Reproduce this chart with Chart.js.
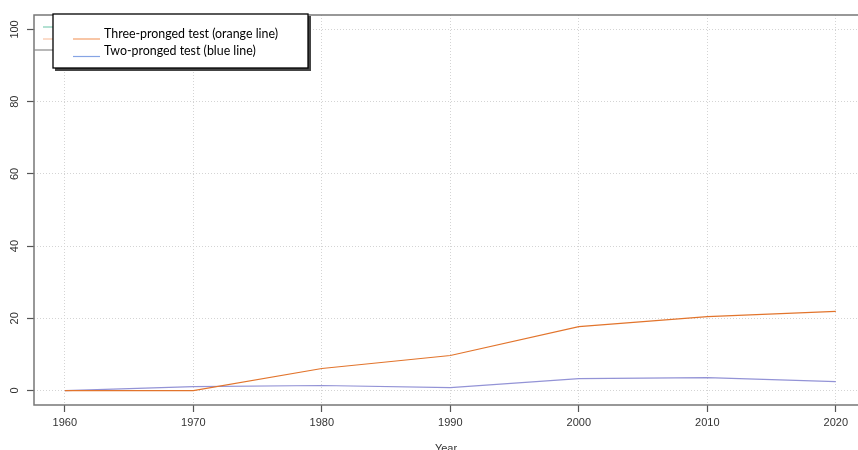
<!DOCTYPE html>
<html>
<head>
<meta charset="utf-8">
<script src="https://cdn.jsdelivr.net/npm/chart.js@4/dist/chart.umd.min.js"></script>
<style>
  html, body { margin: 0; padding: 0; background: #fff; overflow: hidden; }
  #wrap { width: 858px; height: 450px; }
</style>
</head>
<body>
<div id="wrap"><canvas id="chart"></canvas></div>
<script>
// data
const years = [1960, 1970, 1980, 1990, 2000, 2010, 2020];
const threePronged = [0, 0, 6.1, 9.7, 17.7, 20.5, 21.9];
const twoPronged = [0, 1.1, 1.4, 0.8, 3.3, 3.6, 2.5];
const xTicks = [1960, 1970, 1980, 1990, 2000, 2010, 2020];
const yTicks = [0, 20, 40, 60, 80, 100];
const legendLabels = ["Three-pronged test (orange line)", "Two-pronged test (blue line)"];

const AXIS_FONT = "11px 'Liberation Sans', Arial, sans-serif";

// R-style extras: box, rotated y labels, overlapping legends
const rDecor = {
  id: "rDecor",
  afterDraw(chart) {
    const { ctx, chartArea: a, scales } = chart;
    ctx.save();
    // plot box (left, top, bottom)
    ctx.strokeStyle = "#777";
    ctx.lineWidth = 1.5;
    ctx.beginPath();
    ctx.moveTo(a.right + 2, a.top);
    ctx.lineTo(a.left, a.top);
    ctx.lineTo(a.left, a.bottom);
    ctx.lineTo(a.right + 2, a.bottom);
    ctx.stroke();

    // rotated y tick labels
    ctx.fillStyle = "#333";
    ctx.font = AXIS_FONT;
    ctx.textAlign = "center";
    ctx.textBaseline = "middle";
    yTicks.forEach(v => {
      const y = scales.y.getPixelForValue(v);
      ctx.save();
      ctx.translate(15, y);
      ctx.rotate(-Math.PI / 2);
      ctx.fillText(String(v), 0, 0);
      ctx.restore();
    });

    // leftover legend underneath
    ctx.fillStyle = "#fff";
    ctx.fillRect(a.left + 1, a.top + 1, 20, 35);
    ctx.strokeStyle = "#888";
    ctx.lineWidth = 1.2;
    ctx.beginPath();
    ctx.moveTo(a.left, 50);
    ctx.lineTo(54, 50);
    ctx.stroke();
    ctx.lineWidth = 1;
    ctx.strokeStyle = "#66c2a5";
    ctx.beginPath(); ctx.moveTo(43, 27); ctx.lineTo(54, 27); ctx.stroke();
    ctx.strokeStyle = "#f7b894";
    ctx.beginPath(); ctx.moveTo(43, 39); ctx.lineTo(54, 39); ctx.stroke();

    // main legend with shadow
    const lx = 53, ly = 14, lw = 255, lh = 54;
    ctx.fillStyle = "#444";
    ctx.fillRect(lx + 2, ly + 2, lw + 1, lh + 1);
    ctx.fillStyle = "#fff";
    ctx.fillRect(lx, ly, lw, lh);
    ctx.strokeStyle = "#000";
    ctx.lineWidth = 1.3;
    ctx.strokeRect(lx, ly, lw, lh);

    const legendColors = ["#f4a06a", "#86a4e4"];
    const rows = [33.5, 51];
    ctx.font = "12.4px Lato, 'Open Sans', sans-serif";
    ctx.textAlign = "left";
    ctx.fillStyle = "#000";
    legendLabels.forEach((t, i) => {
      ctx.strokeStyle = legendColors[i];
      ctx.lineWidth = 1.2;
      ctx.beginPath();
      ctx.moveTo(73, rows[i] + 5.5);
      ctx.lineTo(100, rows[i] + 5.5);
      ctx.stroke();
      ctx.fillText(t, 104, rows[i]);
    });
    ctx.restore();
  }
};

const gridCommon = {
  color: "#d4d4d4",
  lineWidth: 1,
  drawTicks: true,
  tickLength: 7,
  tickColor: "#555",
  tickBorderDash: [],
  tickWidth: 1.2
};
const borderCommon = { display: false, dash: [1, 2] };

new Chart(document.getElementById("chart"), {
  type: "line",
  data: {
    datasets: [
      {
        label: legendLabels[0],
        data: years.map((x, i) => ({ x, y: threePronged[i] })),
        borderColor: "#e2742c",
        borderWidth: 1.2,
        pointRadius: 0,
        tension: 0
      },
      {
        label: legendLabels[1],
        data: years.map((x, i) => ({ x, y: twoPronged[i] })),
        borderColor: "#9393d6",
        borderWidth: 1.2,
        pointRadius: 0,
        tension: 0
      }
    ]
  },
  options: {
    responsive: true,
    maintainAspectRatio: false,
    animation: false,
    layout: { padding: { top: 15, right: 0, left: 0, bottom: 0 } },
    plugins: { legend: { display: false }, tooltip: { enabled: false } },
    scales: {
      x: {
        type: "linear",
        min: 1957.6,
        max: 1957.6 + 824 / 12.85,
        afterBuildTicks: s => { s.ticks = xTicks.map(v => ({ value: v })); },
        afterFit: s => { s.height = 45; },
        grid: gridCommon,
        border: borderCommon,
        ticks: {
          color: "#333",
          font: { family: "'Liberation Sans', Arial, sans-serif", size: 11 },
          padding: 4,
          maxRotation: 0,
          callback: v => String(v)
        },
        title: {
          display: true,
          text: "Year",
          color: "#333",
          font: { family: "'Liberation Sans', Arial, sans-serif", size: 11 },
          padding: { top: 0, bottom: -6 }
        }
      },
      y: {
        type: "linear",
        min: -4,
        max: 104,
        afterBuildTicks: s => { s.ticks = yTicks.map(v => ({ value: v })); },
        afterFit: s => { s.width = 34; },
        grid: gridCommon,
        border: borderCommon,
        ticks: { display: false }
      }
    }
  },
  plugins: [rDecor]
});
</script>
</body>
</html>
